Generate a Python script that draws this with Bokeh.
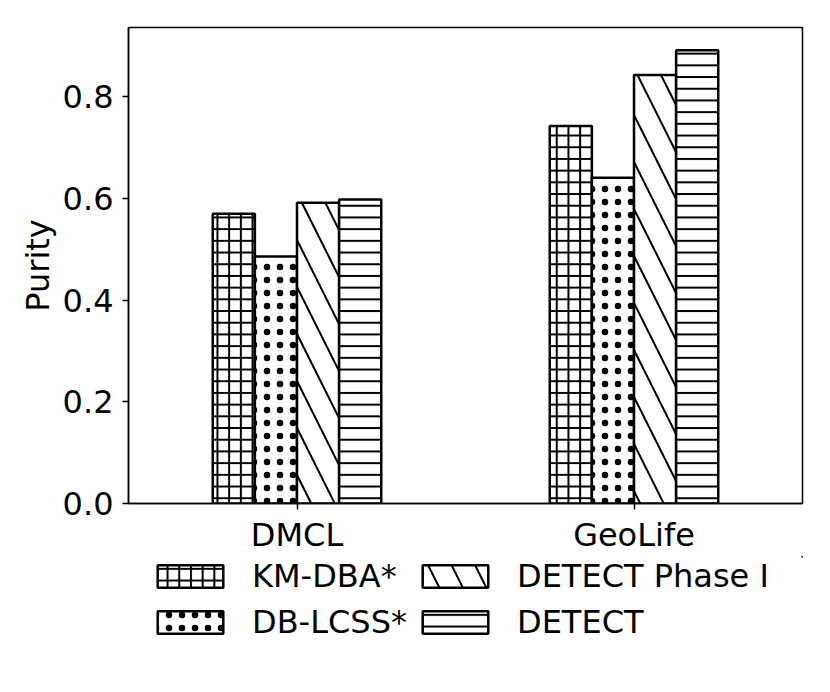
from bokeh.plotting import figure
from bokeh.layouts import column
from bokeh.models import (ColumnDataSource, FactorRange, Range1d, FixedTicker,
                          NumeralTickFormatter, Legend, LegendItem)
from bokeh.transform import dodge
from bokeh.embed import file_html
from bokeh.resources import INLINE

categories = ["DMCL", "GeoLife"]
methods = ["KM-DBA*", "DB-LCSS*", "DETECT Phase I", "DETECT"]
km_dba = [0.570, 0.743]
db_lcss = [0.486, 0.641]
detect_phase1 = [0.592, 0.843]
detect = [0.598, 0.892]
y_ticks = [0.0, 0.2, 0.4, 0.6, 0.8]

src = ColumnDataSource(dict(cat=categories, km=km_dba, db=db_lcss,
                            p1=detect_phase1, det=detect))

FONT = "DejaVu Sans"
FS = "32px"

hatches = ["cross", "dot", "left_diagonal_line", "horizontal_line"]
scales = [11.7, 13, 47, 11.7]
weights = [2, 1, 2, 2]

def bar_style(h, s, w):
    return dict(fill_color="white", line_color="black", line_width=2.5,
                hatch_pattern=h, hatch_color="black", hatch_weight=w,
                hatch_scale=s)

p = figure(x_range=FactorRange(*categories, range_padding=0),
           y_range=Range1d(0, max(detect) * 1.05),
           width=814, height=556, output_backend="svg", toolbar_location=None,
           min_border_left=128, min_border_right=12, min_border_top=27,
           min_border_bottom=52)

cols = ["km", "db", "p1", "det"]
offsets = [-0.1875, -0.0625, 0.0625, 0.1875]

for c, off, h, s, w in zip(cols, offsets, hatches, scales, weights):
    p.vbar(x=dodge("cat", off, range=p.x_range), top=c, width=0.125, source=src,
           **bar_style(h, s, w))

p.xgrid.visible = False
p.ygrid.visible = False
p.outline_line_color = "black"
p.outline_line_width = 1.5

p.yaxis.ticker = FixedTicker(ticks=y_ticks)
p.yaxis.formatter = NumeralTickFormatter(format="0.0")
p.yaxis.axis_label = "Purity"

for ax in (p.xaxis[0], p.yaxis[0]):
    ax.axis_line_color = "black"
    ax.axis_line_width = 1.5
    ax.major_tick_line_color = "black"
    ax.major_tick_line_width = 1.5
    ax.major_tick_out = 6
    ax.major_tick_in = 0
    ax.minor_tick_line_color = None
    ax.major_label_text_font = FONT
    ax.major_label_text_font_size = FS
    ax.major_label_text_color = "black"
    ax.axis_label_text_font = FONT
    ax.axis_label_text_font_size = FS
    ax.axis_label_text_font_style = "normal"
    ax.axis_label_text_color = "black"

p.yaxis.major_label_standoff = 9
p.yaxis.axis_label_standoff = 3
p.xaxis.major_label_standoff = 6

# legend panel
lp = figure(width=814, height=120, output_backend="svg", toolbar_location=None,
            x_range=Range1d(0, 1), y_range=Range1d(0, 1),
            min_border=0, outline_line_color=None)
lp.axis.visible = False
lp.grid.visible = False
dummy = ColumnDataSource(dict(x=[5.0], top=[5.0]))
leg_rs = [lp.vbar(x="x", top="top", bottom=4.0, width=0.1, source=dummy,
                  **bar_style(h, s, w))
          for h, s, w in zip(hatches, scales, weights)]
items = [LegendItem(label=m, renderers=[r]) for m, r in zip(methods, leg_rs)]

def make_legend(its, loc):
    return Legend(items=its, location=loc, orientation="vertical",
                  glyph_width=82, glyph_height=28, label_height=28, spacing=8,
                  padding=0, margin=0, label_standoff=21,
                  border_line_color=None, background_fill_alpha=0,
                  label_text_font_size=FS, label_text_font=FONT,
                  label_text_color="black")

lp.add_layout(make_legend(items[:2], (21, 35)))
lp.add_layout(make_legend(items[2:], (286, 35)))

open("out.html", "w").write(file_html(column(p, lp), INLINE))
